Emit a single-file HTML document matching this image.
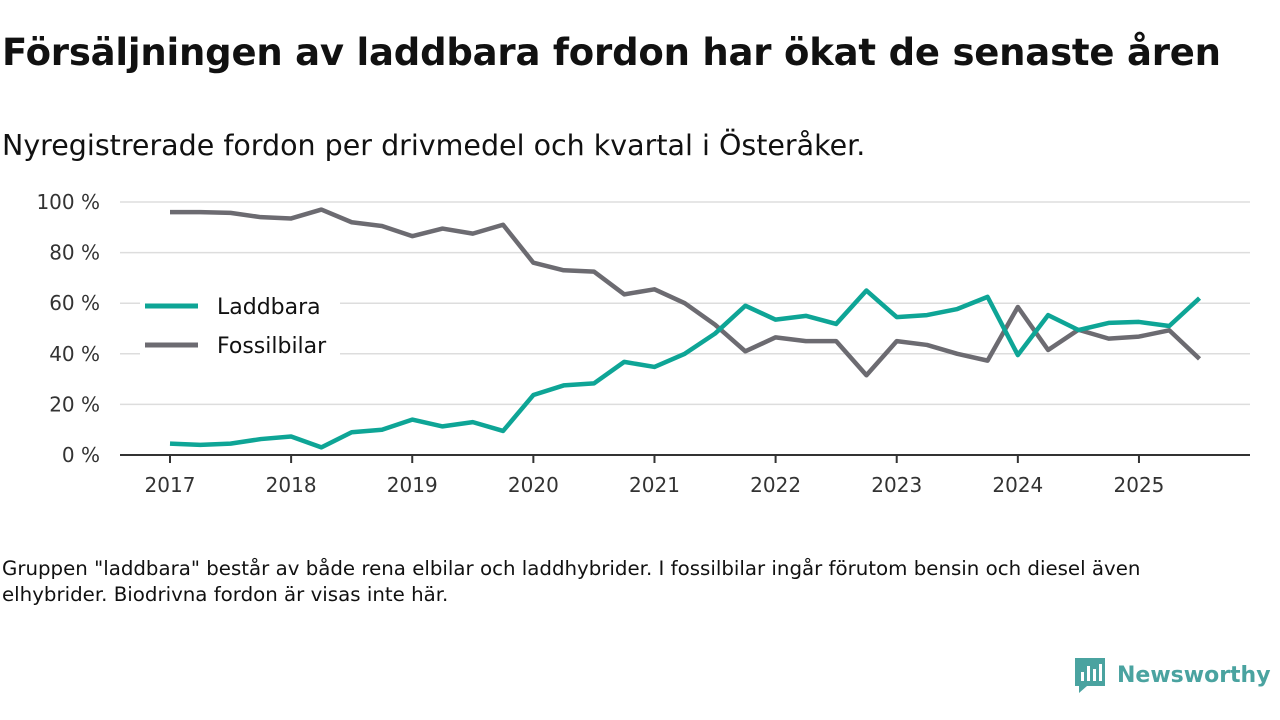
<!DOCTYPE html>
<html><head><meta charset="utf-8"><style>
body{margin:0;width:1280px;height:720px;background:#fff;font-family:"DejaVu Sans","Liberation Sans",sans-serif;color:#111;overflow:hidden;position:relative}
h1{position:absolute;left:2px;top:31px;margin:0;font-size:37px;font-weight:bold;letter-spacing:-0.2px}
.sub{position:absolute;left:2px;top:129px;font-size:28.5px}
.note{position:absolute;left:2px;top:556px;font-size:19.8px;line-height:26px;width:1215px}
</style></head><body>
<h1>Försäljningen av laddbara fordon har ökat de senaste åren</h1>
<div class="sub">Nyregistrerade fordon per drivmedel och kvartal i Österåker.</div>
<svg id="chart" width="1280" height="720" style="position:absolute;left:0;top:0"></svg>
<div class="note">Gruppen "laddbara" består av både rena elbilar och laddhybrider. I fossilbilar ingår förutom bensin och diesel även elhybrider. Biodrivna fordon är visas inte här.</div>
<div style="position:absolute;left:1073px;top:656px;display:flex;align-items:center">
<svg width="34" height="38"><path d="M2 2h30v28H14l-8 7v-7H2z" fill="#4aa3a0"/><rect x="8" y="16" width="3" height="9" fill="#fff"/><rect x="14" y="10" width="3" height="15" fill="#fff"/><rect x="20" y="13" width="3" height="12" fill="#fff"/><rect x="26" y="8" width="3" height="17" fill="#fff"/></svg>
<span style="font-size:22px;color:#4aa3a0;margin-left:10px;font-weight:bold">Newsworthy</span></div>
<script>
const years=[2017,2018,2019,2020,2021,2022,2023,2024,2025];
const yTicks=[0,20,40,60,80,100];
const laddbara=[4.5,4,4.5,6.3,7.3,3,9,10,14,11.3,13,9.5,23.7,27.5,28.3,36.8,34.8,40,48,59,53.5,55,51.8,65,54.5,55.3,57.7,62.5,39.5,55.3,49.4,52.2,52.6,51,62];
const fossil=[96,96,95.7,94,93.5,97,92,90.5,86.5,89.5,87.5,91,76,73,72.5,63.5,65.5,60,51.5,41,46.5,45,45,31.5,45,43.5,40,37.3,58.5,41.5,49.5,46,46.8,49.3,38];
const svg=document.getElementById('chart');const NS='http://www.w3.org/2000/svg';
const FF='DejaVu Sans, Liberation Sans, sans-serif';
const x=i=>170+i*30.28, y=v=>455-v*2.53;
function el(t,a,p){const e=document.createElementNS(NS,t);for(const k in a)e.setAttribute(k,a[k]);(p||svg).appendChild(e);return e;}
yTicks.forEach(v=>{
 if(v>0){const g=el('line',{x1:120,x2:1250,y1:y(v),y2:y(v),stroke:'#ddd','stroke-width':1.5});}
 const t=el('text',{x:100,y:y(v)+7,'text-anchor':'end','font-size':20,fill:'#333','font-family':FF});t.textContent=v+' %';
 
});
const ax=el('line',{x1:120,x2:1250,y1:455,y2:455,stroke:'#333','stroke-width':2});

years.forEach((yr,k)=>{const xx=x(k*4);el('line',{x1:xx,x2:xx,y1:455,y2:463,stroke:'#333','stroke-width':2});
 const t=el('text',{x:xx,y:492,'text-anchor':'middle','font-size':20,fill:'#333','font-family':FF});t.textContent=yr;
 });
const lg=el('rect',{x:140,y:290,width:200,height:75,fill:'#fff'});

[['Laddbara','#0ea596',306],['Fossilbilar','#6c6b71',345]].forEach(([n,c,yy])=>{
 const l=el('line',{x1:145,x2:198,y1:yy,y2:yy,stroke:c,'stroke-width':5});
 const t=el('text',{x:217,y:yy+8,'font-size':22,fill:'#111','font-family':FF});t.textContent=n;
 });
[[fossil,'#6c6b71','fossil-line'],[laddbara,'#0ea596','laddbara-line']].forEach(([d,c,n])=>{
 const p=el('polyline',{points:d.map((v,i)=>x(i)+','+y(v)).join(' '),fill:'none',stroke:c,'stroke-width':4.5,'stroke-linejoin':'round'});
 });
</script>
</body></html>
